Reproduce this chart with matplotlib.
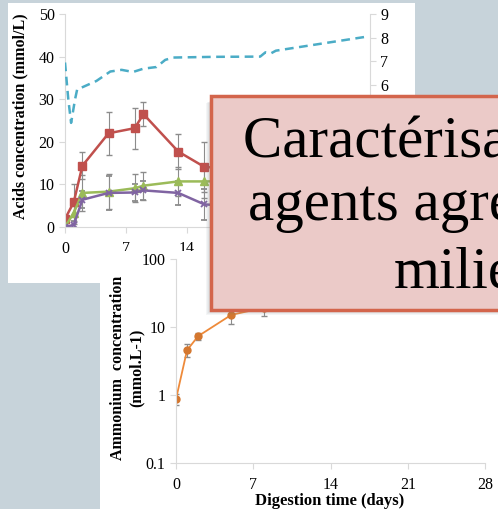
import matplotlib.pyplot as plt
from matplotlib.patches import Rectangle

W, H = 498, 509

# acids (left axis, mmol/L)
acid_days = [0, 1, 2, 5, 8, 9, 13, 16, 21]
red_vals = [1.9, 5.8, 14.4, 22.0, 23.2, 26.5, 17.7, 14.1, 13.5]
red_err = [0.5, 4.3, 3.1, 5.1, 4.8, 2.8, 4.2, 5.9, 5.0]
green_vals = [0.0, 3.3, 8.0, 8.3, 9.1, 9.7, 10.7, 10.7, 10.8]
green_err = [0.3, 2.5, 4.2, 4.1, 3.3, 3.3, 3.5, 4.0, 3.5]
purple_vals = [0.0, 0.5, 6.4, 8.0, 8.1, 8.6, 8.0, 5.3, 4.8]
purple_err = [0.2, 0.8, 2.0, 4.0, 2.0, 2.2, 2.8, 3.6, 3.0]

# pH (right axis)
ph_days = [0, 0.38, 0.7, 1.15, 1.4, 1.9, 3.6, 5.2, 6.5, 7.8, 9.0, 10.5, 11.5,
           12.4, 17.2, 22.4, 23.0, 23.6, 24.2, 34.4]
ph_vals = [6.95, 5.39, 4.4, 5.39, 5.82, 5.89, 6.17, 6.57, 6.64, 6.55, 6.69,
           6.76, 7.06, 7.16, 7.19, 7.2, 7.38, 7.33, 7.45, 8.03]

# ammonium (log axis)
nh4_days = [0, 1, 2, 5, 8, 13, 21]
nh4_vals = [0.88, 4.6, 7.4, 15.2, 19.5, 25, 30]
nh4_err = [0.15, 1.0, 0.8, 4.0, 5.0, 5.0, 5.0]

box_lines = ["Caractérisation des", "agents agressifs du", "milieu"]

plt.rcParams['font.family'] = ['Liberation Serif', 'DejaVu Serif']

fig = plt.figure(figsize=(W / 100, H / 100), dpi=100)
fig.patch.set_facecolor('#c7d3da')


def rect(x0, y0, x1, y1):
    return [x0 / W, 1 - y1 / H, (x1 - x0) / W, (y1 - y0) / H]


def add_box(x0, y0, x1, y1, z, **kw):
    l, b, w, h = rect(x0, y0, x1, y1)
    p = Rectangle((l, b), w, h, transform=fig.transFigure, zorder=z, **kw)
    fig.add_artist(p)
    return p


gray = '#d9d9d9'
ebar = '#8c8c8c'

# ---- panel 1: acids + pH
add_box(8, 3, 415, 283, 0.1, facecolor='white', edgecolor='none')

ax1 = fig.add_axes(rect(65, 14, 370, 227))
ax1.set_zorder(0.2)
ax1.patch.set_visible(False)

ax1.errorbar(acid_days, red_vals, yerr=red_err, color='#c0504d', lw=1.8,
             marker='s', ms=6, ecolor=ebar, elinewidth=0.8, capsize=2)
ax1.errorbar(acid_days, green_vals, yerr=green_err, color='#9bbb59', lw=1.8,
             marker='^', ms=6, ecolor=ebar, elinewidth=0.8, capsize=2)
ax1.errorbar(acid_days, purple_vals, yerr=purple_err, color='#8064a2', lw=1.8,
             marker='x', ms=5, mew=1.3, ecolor=ebar, elinewidth=0.8, capsize=2)

ax1.set_xlim(0, 35)
ax1.set_ylim(0, 50)
ax1.set_xticks([0, 7, 14, 21, 28, 35])
ax1.set_yticks([0, 10, 20, 30, 40, 50])
for s in ['top', 'right']:
    ax1.spines[s].set_visible(False)
for s in ['left', 'bottom']:
    ax1.spines[s].set_color(gray)
ax1.tick_params(colors=gray, labelcolor='black', labelsize=11.5, length=4)
ax1.tick_params(axis='x', pad=6)
ax1.set_ylabel("Acids concentration (mmol/L)", fontsize=11.5, fontweight='bold',
               va='center', ha='center')
ax1.yaxis.set_label_coords((20 - 65) / 305, (227 - 116.5) / 213)

ax1r = ax1.twinx()
ax1r.set_zorder(0.3)
ax1r.plot(ph_days, ph_vals, color='#4bacc6', lw=1.8, ls=(0, (3.5, 2.2)))
ax1r.set_ylim(0, 9)
ax1r.set_yticks(range(0, 10))
for s in ['top', 'left', 'bottom']:
    ax1r.spines[s].set_visible(False)
ax1r.spines['right'].set_color(gray)
ax1r.tick_params(colors=gray, labelcolor='black', labelsize=11.5, length=4)

# ---- panel 2: ammonium
add_box(100, 251, 510, 520, 0.4, facecolor='white', edgecolor='none')

ax2 = fig.add_axes(rect(176, 259.3, 485, 463.3))
ax2.set_zorder(0.5)
ax2.patch.set_visible(False)
ax2.errorbar(nh4_days, nh4_vals, yerr=nh4_err, color='#ee8a3a', lw=1.3,
             marker='o', ms=5, mfc='#d4772f', mec='#d4772f',
             ecolor=ebar, elinewidth=0.8, capsize=2)
ax2.set_yscale('log')
ax2.set_ylim(0.1, 100)
ax2.set_xlim(0, 28)
ax2.set_xticks([0, 7, 14, 21, 28])
ax2.set_yticks([0.1, 1, 10, 100])
ax2.set_yticklabels(['0.1', '1', '10', '100'])
ax2.yaxis.set_minor_locator(plt.NullLocator())
for s in ['top', 'right']:
    ax2.spines[s].set_visible(False)
for s in ['left', 'bottom']:
    ax2.spines[s].set_color(gray)
ax2.tick_params(colors=gray, labelcolor='black', labelsize=11.5, length=4)
ax2.tick_params(axis='x', pad=6)
ax2.set_ylabel("Ammonium  concentration\n(mmol.L-1)", fontsize=11.5, fontweight='bold',
               va='center', ha='center', linespacing=1.2)
ax2.yaxis.set_label_coords((127 - 176) / 309, (463.3 - 368) / 204)
ax2.set_xlabel("Digestion time (days)", fontsize=12, fontweight='bold',
               va='center', ha='center')
ax2.xaxis.set_label_coords((330 - 176) / 309, (463.3 - 501) / 204)

# ---- pink title box with a soft shadow
for k in range(1, 6):
    add_box(211 - k, 100 + k * 0.5, 520, 310 + k, 0.55,
            facecolor='#6f7a80', edgecolor='none', alpha=0.07)
add_box(211, 96, 520, 310, 0.6, facecolor='#ebcac8', edgecolor='#d3654c', lw=2.5)

line_pos = [(243, 158), (248, 220), (394, 287)]
for txt, (px, py) in zip(box_lines, line_pos):
    fig.text(px / W, 1 - py / H, txt, fontsize=42.5, color='black',
             ha='left', va='baseline', zorder=0.7)

fig.savefig('out.png', dpi=100, facecolor=fig.get_facecolor())
